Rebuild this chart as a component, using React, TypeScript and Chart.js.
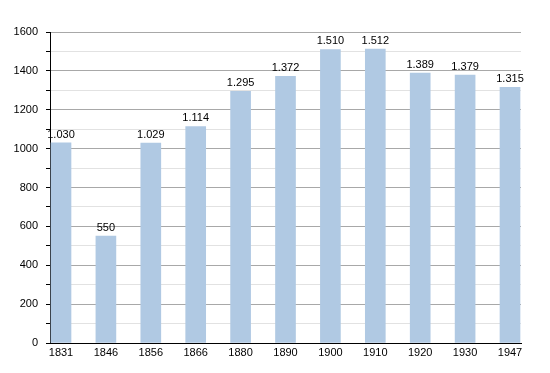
import React, { useEffect, useRef } from "react";
import { Chart, registerables } from "chart.js";

Chart.register(...registerables);

const years = ["1831", "1846", "1856", "1866", "1880", "1890", "1900", "1910", "1920", "1930", "1947"];
const population = [1030, 550, 1029, 1114, 1295, 1372, 1510, 1512, 1389, 1379, 1315];
const yTicks = [0, 200, 400, 600, 800, 1000, 1200, 1400, 1600];

const FONT = "'Liberation Sans', Arial, Helvetica, sans-serif";

function fmt(v: number): string {
  if (v >= 1000) {
    return `${Math.floor(v / 1000)}.${String(v % 1000).padStart(3, "0")}`;
  }
  return String(v);
}

const valueLabels = {
  id: "valueLabels",
  afterDatasetsDraw(chart: any) {
    const ctx = chart.ctx;
    const meta = chart.getDatasetMeta(0);
    ctx.save();
    ctx.font = `11px ${FONT}`;
    ctx.fillStyle = "#000";
    ctx.textAlign = "center";
    ctx.textBaseline = "alphabetic";
    meta.data.forEach((bar: any, i: number) => {
      ctx.fillText(fmt(population[i]), bar.x, bar.y - 5);
    });
    ctx.restore();
  },
};

export default function App() {
  const ref = useRef<HTMLCanvasElement | null>(null);
  useEffect(() => {
    if (!ref.current) return;
    const chart = new Chart(ref.current, {
      type: "bar",
      data: {
        datasets: [
          {
            data: population.map((v, i) => ({ x: i, y: v })),
            backgroundColor: "#b0c9e3",
            borderWidth: 0,
            barThickness: 20,
          },
        ],
      },
      options: {
        responsive: false,
        animation: false,
        layout: { padding: { top: 32, right: 29, left: 0, bottom: 0 } },
        plugins: { legend: { display: false }, tooltip: { enabled: false } },
        scales: {
          x: {
            type: "linear",
            offset: false,
            min: -0.245,
            max: 10.245,
            grid: { display: true, color: "rgba(0,0,0,0)", drawTicks: false },
            border: { display: true, color: "#000", width: 1 },
            ticks: {
              stepSize: 1,
              includeBounds: false,
              autoSkip: false,
              maxRotation: 0,
              padding: 3,
              color: "#000",
              font: { family: FONT, size: 11 },
              callback: (v: any) => (Number.isInteger(v) && years[v] ? years[v] : ""),
            },
            afterFit: (s: any) => {
              s.height = 30;
            },
          },
          y: {
            min: 0,
            max: 1600,
            grid: {
              color: (c: any) =>
                c.tick && c.tick.value === 0
                  ? "#000"
                  : c.tick && yTicks.includes(c.tick.value)
                  ? "#a8a8a8"
                  : "#e2e2e2",
              tickColor: "#000",
              tickLength: 4,
              lineWidth: 1,
            },
            border: { display: true, color: "#000", width: 1 },
            ticks: {
              stepSize: 100,
              autoSkip: false,
              padding: 8,
              color: "#000",
              font: { family: FONT, size: 11 },
              callback: (v: any) => (yTicks.includes(v) ? String(v) : ""),
            },
            afterFit: (s: any) => {
              s.width = 50;
            },
          },
        },
      },
      plugins: [valueLabels],
    });
    return () => chart.destroy();
  }, []);
  return (
    <div style={{ position: "absolute", left: 0, top: 0, width: 550, height: 373, background: "#fff" }}>
      <canvas ref={ref} width={550} height={373} />
    </div>
  );
}
